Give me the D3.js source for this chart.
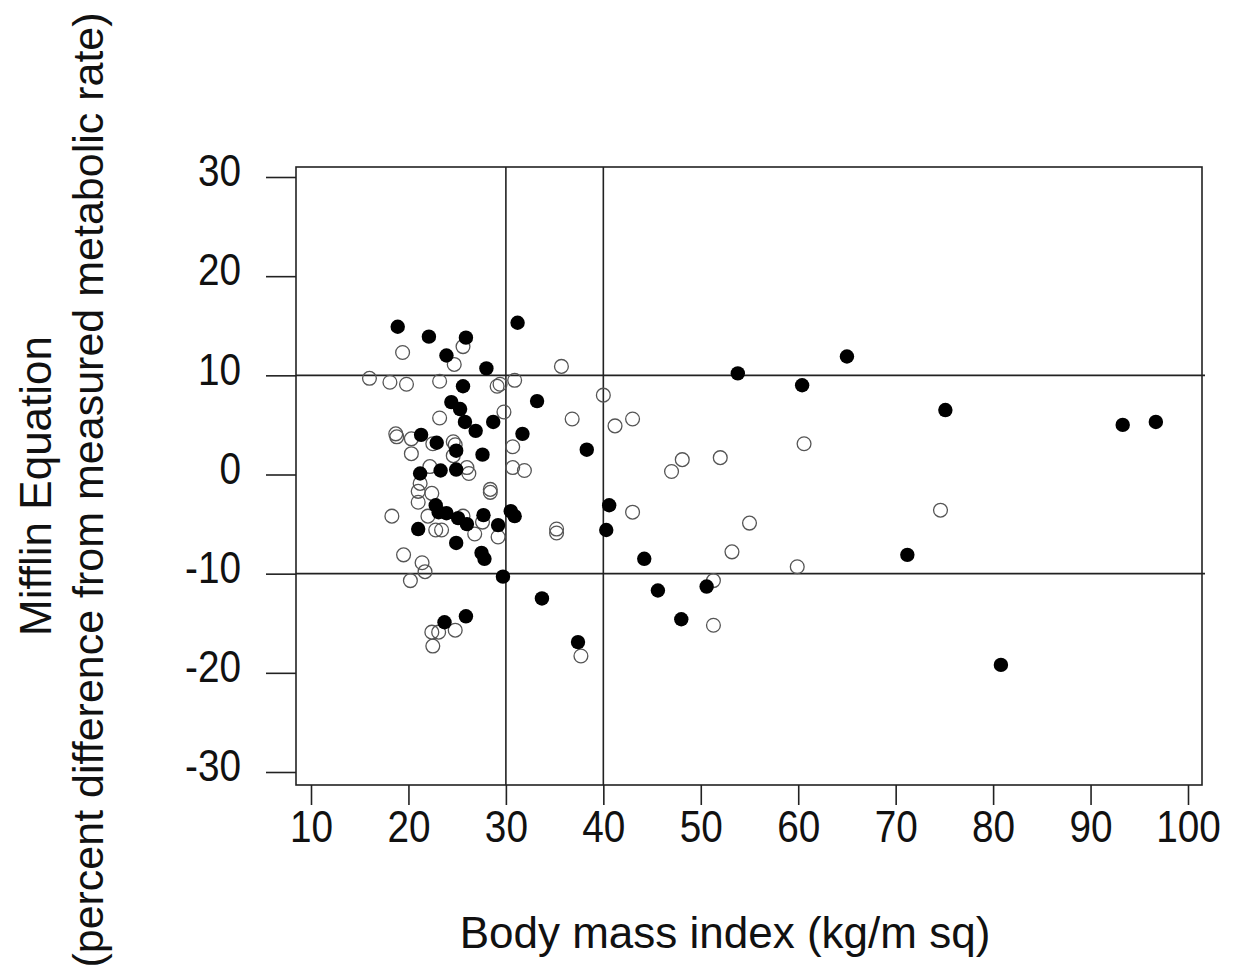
<!DOCTYPE html>
<head>
  <meta charset="utf-8">
  <script src="https://d3js.org/d3.v7.min.js"></script>
  <style>
    body { margin:0; background:#fff; }
    svg text { font-family: "Liberation Sans", Arial, sans-serif; fill:#111; }
  </style>
</head>
<body>
<script>
    // BMI values (x) and percent difference (y)
    var filledBMI = [18.9,22.1,25.9,31.2,23.9,28.0,25.6,24.4,25.3,33.2,25.8,28.7,26.9,21.3,31.7,22.9,38.3,24.9,27.6,23.3,24.9,21.2,
                     22.8,23.1,23.9,25.1,26.0,27.7,29.2,30.5,30.9,21.0,24.9,27.5,27.8,29.7,40.6,40.3,44.2,45.6,50.6,33.7,25.9,23.7,48.0,37.4,
                     53.8,60.4,65.0,75.1,71.2,80.8,93.3,96.7];
    var filledDiff = [14.9,13.9,13.8,15.3,12.0,10.7,8.9,7.3,6.6,7.4,5.3,5.3,4.4,4.0,4.1,3.2,2.5,2.4,2.0,0.4,0.5,0.1,
                      -3.1,-3.8,-3.9,-4.4,-5.0,-4.1,-5.1,-3.7,-4.2,-5.5,-6.9,-7.9,-8.5,-10.3,-3.1,-5.6,-8.5,-11.7,-11.3,-12.5,-14.3,-14.9,-14.6,-16.9,
                      10.2,9.0,11.9,6.5,-8.1,-19.2,5.0,5.3];
    var openBMI = [19.4,25.6,24.7,16.0,18.1,19.8,23.2,29.1,29.4,30.9,35.7,29.8,23.2,18.7,18.8,20.3,22.5,24.6,24.8,20.3,24.6,22.2,26.0,26.2,30.7,30.7,31.9,40.0,36.8,41.2,43.0,
                   21.2,21.0,22.4,21.0,28.4,28.4,18.3,22.0,25.6,27.6,22.8,23.4,26.8,29.2,35.2,35.2,19.5,21.4,21.7,20.2,
                   22.4,23.1,24.8,22.5,37.7,
                   47.0,48.1,52.0,60.6,43.0,55.0,53.2,59.9,51.3,51.3,74.6];
    var openDiff = [12.3,12.9,11.1,9.7,9.3,9.1,9.4,8.9,9.1,9.5,10.9,6.3,5.7,4.1,3.8,3.6,3.1,3.3,3.0,2.1,1.9,0.8,0.7,0.1,2.8,0.7,0.4,8.0,5.6,4.9,5.6,
                    -0.9,-1.7,-1.9,-2.8,-1.5,-1.8,-4.2,-4.2,-4.2,-4.8,-5.6,-5.6,-6.0,-6.3,-5.5,-5.9,-8.1,-8.9,-9.8,-10.7,
                    -15.9,-15.9,-15.7,-17.3,-18.3,
                    0.3,1.5,1.7,3.1,-3.8,-4.9,-7.8,-9.3,-10.7,-15.2,-3.6];
    var xTicks = [10,20,30,40,50,60,70,80,90,100];
    var yTicks = [30,20,10,0,-10,-20,-30];
    var xRefLines = [30,40];
    var yRefLines = [10,-10];

    var width = 1236, height = 978;
    var box = {left:296, right:1202, top:167, bottom:785};
    var squeeze = 0.88;   // tick digits in the scan are narrow

    var svg = d3.select("body").append("svg")
        .attr("width", width)
        .attr("height", height);

    var x = d3.scaleLinear().domain([10,100]).range([311,1188]);
    var y = d3.scaleLinear().domain([-30,30]).range([772,177]);

    // plot frame
    svg.append("rect")
      .attr("x", box.left).attr("y", box.top)
      .attr("width", box.right - box.left).attr("height", box.bottom - box.top)
      .attr("fill", "none").attr("stroke", "#222").attr("stroke-width", 1.6);

    // reference lines
    svg.selectAll(".vref").data(xRefLines).enter().append("line")
      .attr("x1", function(d){ return x(d); }).attr("x2", function(d){ return x(d); })
      .attr("y1", box.top).attr("y2", box.bottom)
      .attr("stroke", "#222").attr("stroke-width", 1.6);
    svg.selectAll(".href").data(yRefLines).enter().append("line")
      .attr("x1", box.left).attr("x2", box.right + 3)
      .attr("y1", function(d){ return y(d); }).attr("y2", function(d){ return y(d); })
      .attr("stroke", "#222").attr("stroke-width", 1.6);

    // axes (plain hyphen for negatives, like the original)
    var fmt = function(d){ return String(d); };
    var yAxis = svg.append("g")
      .attr("transform", "translate(" + box.left + ",0)")
      .call(d3.axisLeft(y).tickValues(yTicks).tickSize(30).tickPadding(25).tickFormat(fmt));
    var xAxis = svg.append("g")
      .attr("transform", "translate(0," + box.bottom + ")")
      .call(d3.axisBottom(x).tickValues(xTicks).tickSize(20).tickPadding(4).tickFormat(fmt));
    svg.selectAll(".domain").remove();
    svg.selectAll(".tick line").attr("stroke", "#222").attr("stroke-width", 1.6);
    yAxis.selectAll("text")
      .attr("font-size", 44).attr("dy", "0.2em").attr("fill", "#111")
      .attr("x", -55 / squeeze)
      .attr("transform", "scale(" + squeeze + ",1)");
    xAxis.selectAll("text")
      .attr("font-size", 44).attr("dy", "0.74em").attr("fill", "#111")
      .attr("transform", "scale(" + squeeze + ",1)");

    // points
    var filled = filledBMI.map(function(v,i){ return {bmi:v, diff:filledDiff[i]}; });
    var open = openBMI.map(function(v,i){ return {bmi:v, diff:openDiff[i]}; });

    svg.selectAll(".open").data(open).enter().append("circle")
      .attr("class", "open")
      .attr("cx", function(d){ return x(d.bmi); })
      .attr("cy", function(d){ return y(d.diff); })
      .attr("r", 6.9)
      .attr("fill", "none").attr("stroke", "#555").attr("stroke-width", 1.3);
    svg.selectAll(".filled").data(filled).enter().append("circle")
      .attr("class", "filled")
      .attr("cx", function(d){ return x(d.bmi); })
      .attr("cy", function(d){ return y(d.diff); })
      .attr("r", 7.2)
      .attr("fill", "#000");

    // axis titles
    svg.append("text")
      .attr("x", 725).attr("y", 948)
      .attr("text-anchor", "middle").attr("font-size", 44)
      .text("Body mass index (kg/m sq)");
    svg.append("text")
      .attr("transform", "translate(51,486) rotate(-90)")
      .attr("text-anchor", "middle").attr("font-size", 44)
      .text("Mifflin Equation");
    svg.append("text")
      .attr("transform", "translate(103,490) rotate(-90)")
      .attr("text-anchor", "middle").attr("font-size", 43)
      .text("(percent difference from measured metabolic rate)");
</script>
</body>
